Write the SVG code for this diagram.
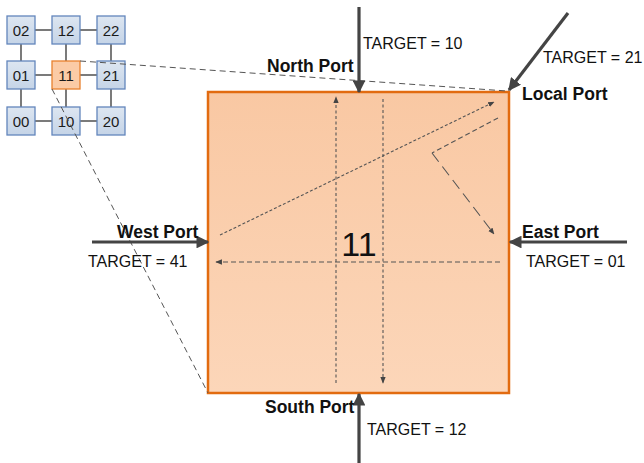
<svg xmlns="http://www.w3.org/2000/svg" width="644" height="463" viewBox="0 0 644 463">
  <style>
    .lbl { font-family: "Liberation Sans", Arial, sans-serif; font-size: 16px; fill: #111; }
    .port { font-family: "Liberation Sans", Arial, sans-serif; font-size: 17.5px; font-weight: bold; fill: #111; }
    .node rect { fill: url(#blueFill); stroke: #6386BC; stroke-width: 1.3; }
    .node text { font-family: "Liberation Sans", Arial, sans-serif; font-size: 15px; fill: #1a1a1a; text-anchor: middle; }
    .link { stroke: #222; stroke-width: 1.2; }
    .port-arrow { stroke: #444; stroke-width: 3.2; fill: none; }
    .flow { stroke: #555; stroke-width: 1.1; fill: none; }
    .zoom { stroke: #555; stroke-width: 1; fill: none; stroke-dasharray: 6 4; }
  </style>
  <defs>
    <linearGradient id="blueFill" x1="0" y1="0" x2="0" y2="1">
      <stop offset="0" stop-color="#DDE6F1"/>
      <stop offset="1" stop-color="#C5D4E7"/>
    </linearGradient>
    <linearGradient id="routerFill" x1="0" y1="0" x2="0" y2="1">
      <stop offset="0" stop-color="#F9C8A3"/>
      <stop offset="1" stop-color="#FCD6B9"/>
    </linearGradient>
    <marker id="bigHead" viewBox="0 0 10 10" refX="9" refY="5" markerWidth="4" markerHeight="4" orient="auto" markerUnits="strokeWidth">
      <path d="M0,0 L10,5 L0,10 z" fill="#444"/>
    </marker>
    <marker id="smallHead" viewBox="0 0 10 10" refX="9" refY="5" markerWidth="6" markerHeight="6" orient="auto" markerUnits="strokeWidth">
      <path d="M0,1 L10,5 L0,9 z" fill="#444"/>
    </marker>
  </defs>

  <!-- mesh links -->
  <g id="mesh-links">
    <line class="link" x1="35" y1="30" x2="52" y2="30"/>
    <line class="link" x1="80" y1="30" x2="97" y2="30"/>
    <line class="link" x1="35" y1="75" x2="52" y2="75"/>
    <line class="link" x1="80" y1="75" x2="97" y2="75"/>
    <line class="link" x1="35" y1="121" x2="52" y2="121"/>
    <line class="link" x1="80" y1="121" x2="97" y2="121"/>
    <line class="link" x1="21" y1="44" x2="21" y2="61"/>
    <line class="link" x1="21" y1="89" x2="21" y2="107"/>
    <line class="link" x1="66" y1="44" x2="66" y2="61"/>
    <line class="link" x1="66" y1="89" x2="66" y2="107"/>
    <line class="link" x1="111" y1="44" x2="111" y2="61"/>
    <line class="link" x1="111" y1="89" x2="111" y2="107"/>
  </g>

  <!-- mesh nodes -->
  <g id="n02" class="node"><rect x="7" y="16" width="28" height="28"/><text x="21" y="35.5">02</text></g>
  <g id="n12" class="node"><rect x="52" y="16" width="28" height="28"/><text x="66" y="35.5">12</text></g>
  <g id="n22" class="node"><rect x="97" y="16" width="28" height="28"/><text x="111" y="35.5">22</text></g>
  <g id="n01" class="node"><rect x="7" y="61" width="28" height="28"/><text x="21" y="80.5">01</text></g>
  <g id="n11" class="node"><rect x="52" y="61" width="28" height="28" style="fill:#FBCBA6;stroke:#E8812F"/><text x="66" y="80.5">11</text></g>
  <g id="n21" class="node"><rect x="97" y="61" width="28" height="28"/><text x="111" y="80.5">21</text></g>
  <g id="n00" class="node"><rect x="7" y="107" width="28" height="28"/><text x="21" y="126.5">00</text></g>
  <g id="n10" class="node"><rect x="52" y="107" width="28" height="28"/><text x="66" y="126.5">10</text></g>
  <g id="n20" class="node"><rect x="97" y="107" width="28" height="28"/><text x="111" y="126.5">20</text></g>

  <!-- expanded router 11 -->
  <g id="router11">
    <rect x="208" y="92" width="301" height="301" fill="url(#routerFill)" stroke="#E26B10" stroke-width="2.5"/>
    <text x="359" y="256" text-anchor="middle" style="font-family:'Liberation Sans',Arial,sans-serif;font-size:34px;fill:#111">11</text>
  </g>

  <!-- connectors -->
  <g id="connectors">
    <!-- zoom outline from mesh node to router -->
    <line class="zoom" x1="80" y1="61" x2="507" y2="91"/>
    <line class="zoom" x1="52" y1="89" x2="208" y2="393"/>

    <!-- port inputs -->
    <line class="port-arrow" x1="359" y1="7" x2="359" y2="92" marker-end="url(#bigHead)"/>
    <line class="port-arrow" x1="359" y1="463" x2="359" y2="394" marker-end="url(#bigHead)"/>
    <line class="port-arrow" x1="92" y1="242" x2="208" y2="242" marker-end="url(#bigHead)"/>
    <line class="port-arrow" x1="627" y1="242" x2="510" y2="242" marker-end="url(#bigHead)"/>
    <line class="port-arrow" x1="568" y1="13" x2="509" y2="90" marker-end="url(#bigHead)"/>

    <!-- internal routes -->
    <line class="flow" x1="336" y1="383" x2="336" y2="97" stroke-dasharray="3 2.5" marker-end="url(#smallHead)"/>
    <line class="flow" x1="383" y1="99" x2="383" y2="383" stroke-dasharray="3 2.5" marker-end="url(#smallHead)"/>
    <line class="flow" x1="220" y1="235" x2="494" y2="102" stroke-dasharray="3 2" marker-end="url(#smallHead)"/>
    <line class="flow" x1="500" y1="262" x2="216" y2="262" stroke-dasharray="5 3" marker-end="url(#smallHead)"/>
    <polyline class="flow" points="498,118 432,153" stroke-dasharray="5 3"/>
    <polyline class="flow" points="432,153 494,234" stroke-dasharray="11 6" marker-end="url(#smallHead)"/>
  </g>

  <!-- port labels -->
  <g id="labels">
    <text class="port" x="267" y="72">North Port</text>
    <text class="lbl" x="363" y="49">TARGET = 10</text>
    <text class="lbl" x="543" y="63">TARGET = 21</text>
    <text class="port" x="522" y="100">Local Port</text>
    <text class="port" x="117" y="238">West Port</text>
    <text class="lbl" x="88" y="267">TARGET = 41</text>
    <text class="port" x="522" y="238">East Port</text>
    <text class="lbl" x="526" y="267">TARGET = 01</text>
    <text class="port" x="265" y="413">South Port</text>
    <text class="lbl" x="367" y="435">TARGET = 12</text>
  </g>
</svg>
